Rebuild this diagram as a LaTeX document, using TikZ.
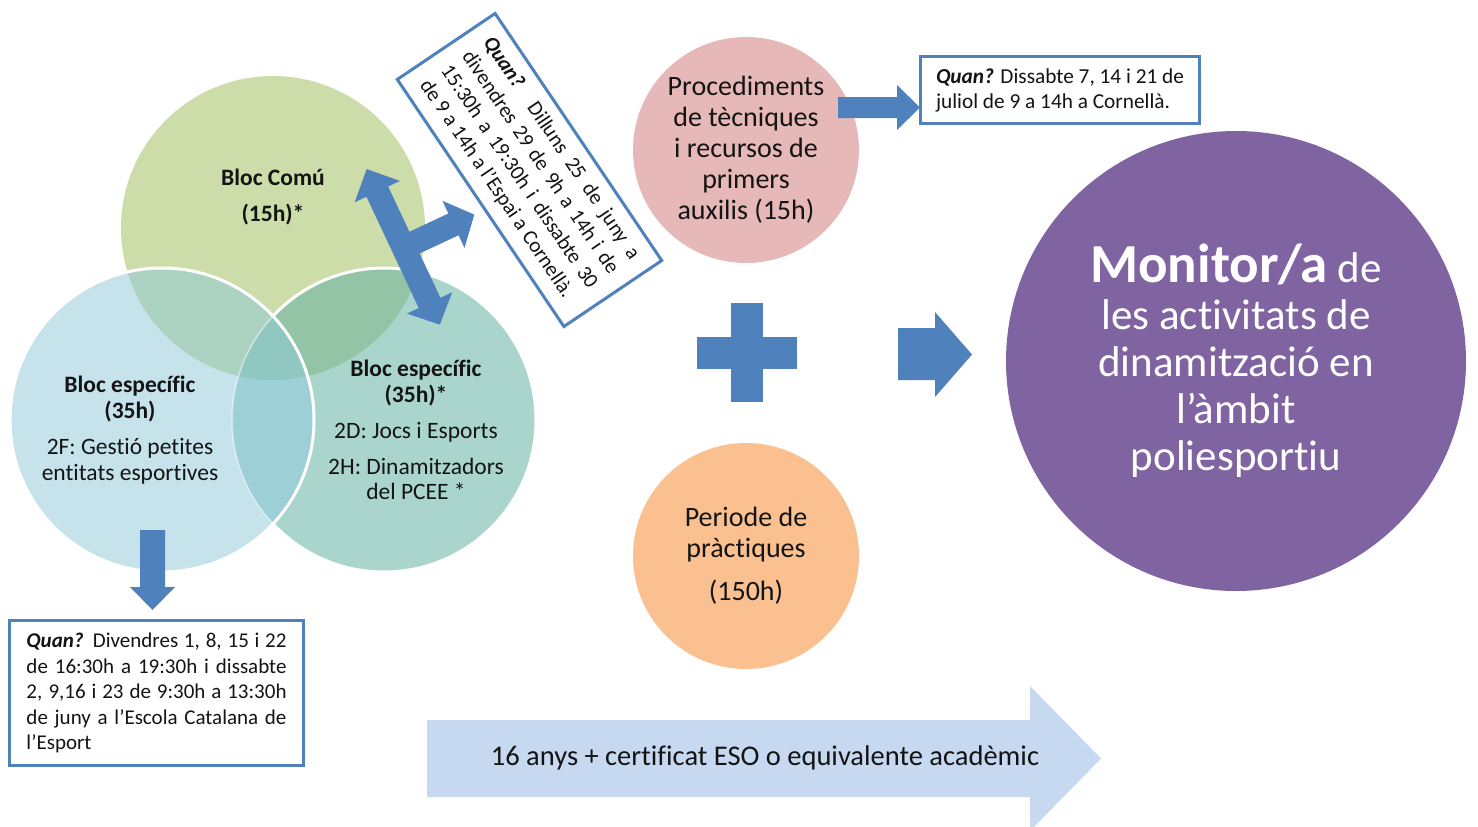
\documentclass[tikz,border=0pt]{standalone}
\usepackage{fontspec}
\setmainfont{Carlito}[Ligatures=CommonOff]
\definecolor{cG}{RGB}{205,221,170}
\definecolor{cB}{RGB}{198,227,235}
\definecolor{cT}{RGB}{170,213,205}
\definecolor{cGB}{RGB}{172,210,194}
\definecolor{cGT}{RGB}{147,196,165}
\definecolor{cBT}{RGB}{157,208,214}
\definecolor{cGBT}{RGB}{144,199,193}
\definecolor{cPink}{RGB}{230,185,184}
\definecolor{cOrange}{RGB}{250,192,144}
\definecolor{cPurple}{RGB}{128,100,162}
\definecolor{cArrow}{RGB}{79,129,189}
\definecolor{cPale}{RGB}{198,217,241}
\definecolor{cInk}{RGB}{20,20,20}
\begin{document}
\begin{tikzpicture}[x=1pt,y=-1pt,
  qbox/.style={draw=cArrow, line width=3pt, fill=white, inner xsep=17pt, inner ysep=0pt,
    text=cInk, font=\fontsize{21}{25.5}\selectfont, align=justify},
  venntext/.style={align=center, text=cInk, font=\fontsize{23.5}{25.5}\selectfont},
  roundel/.style={circle, inner sep=0pt, align=center, text=cInk},
  blockarrow/.style={fill=cArrow}
]
\useasboundingbox (0,0) rectangle (1478,827);

% ---------- Venn diagram ----------
\fill[cG] (273,228) circle[radius=152pt];
\fill[cT] (384,420) circle[radius=152pt];
\begin{scope}
  \clip (273,228) circle[radius=152pt];
  \fill[cGT] (384,420) circle[radius=152pt];
\end{scope}
\draw[white, line width=3pt] (384,420) circle[radius=152pt];
\fill[cB] (162,420) circle[radius=152pt];
\begin{scope}
  \clip (162,420) circle[radius=152pt];
  \fill[cGB] (273,228) circle[radius=152pt];
  \fill[cBT] (384,420) circle[radius=152pt];
  \clip (384,420) circle[radius=152pt];
  \fill[cGBT] (273,228) circle[radius=152pt];
\end{scope}
\begin{scope}
  \clip (162,420) circle[radius=152pt];
  \draw[white, opacity=0.5, line width=1.5pt] (384,420) circle[radius=152pt];
\end{scope}
\draw[white, line width=3pt] (162,420) circle[radius=152pt];

\node[venntext, font=\fontsize{23.5}{25.5}\selectfont\bfseries] (comu) at (273,197)
  {Bloc Comú\\[10pt](15h)*};
\node[venntext] (espF) at (130,430)
  {\textbf{Bloc específic}\\\textbf{(35h)}\\[11pt]2F: Gestió petites\\entitats esportives};
\node[venntext] (espD) at (416,430)
  {\textbf{Bloc específic}\\\textbf{(35h)*}\\[11pt]2D: Jocs i Esports\\[10pt]2H: Dinamitzadors\\del PCEE *};

% ---------- T-shaped arrow ----------
\begin{scope}[shift={(366.7,169)}, x={(0.425pt,-0.905pt)}, y={(0.905pt,0.425pt)}]
  \fill[blockarrow] (0,0) -- (25,25) -- (25,12) -- (75,12) -- (75,55) -- (61,55)
    -- (87,78) -- (113,55) -- (99,55) -- (99,12) -- (148,12) -- (148,25)
    -- (172,0) -- (148,-25) -- (148,-12) -- (25,-12) -- (25,-25) -- cycle;
\end{scope}

% ---------- rotated box ----------
\node[qbox, rotate=-56, minimum width=293pt, minimum height=118pt, text width=264pt]
  (quanA) at (529.5,170)
  {\textbf{\textit{Quan?}} Dilluns 25 de juny a\linebreak
   divendres 29 de 9h a 14h i de\linebreak
   15:30h a 19:30h i dissabte 30\linebreak
   de 9 a 14h a l’Espai a Cornellà.};

% ---------- down arrow and box ----------
\fill[blockarrow] (140,530) -- (165,530) -- (165,587) -- (175,587) -- (152.5,610)
  -- (130,587) -- (140,587) -- cycle;
\node[qbox, minimum width=294pt, minimum height=145pt, text width=260pt]
  (quanB) at (156.5,693)
  {\textbf{\textit{Quan?}} Divendres 1, 8, 15 i 22\linebreak
   de 16:30h a 19:30h i dissabte\linebreak
   2, 9,16 i 23 de 9:30h a 13:30h\linebreak
   de juny a l’Escola Catalana de\linebreak
   l’Esport};

% ---------- middle column ----------
\node[roundel, fill=cPink, minimum size=226pt, font=\fontsize{28}{31}\selectfont]
  (proc) at (746,150)
  {Procediments\\de tècniques\\i recursos de\\primers\\auxilis (15h)};
\node[roundel, fill=cOrange, minimum size=226pt, font=\fontsize{28}{31}\selectfont]
  (prac) at (746,556)
  {Periode de\\pràctiques\\[12pt](150h)};

\fill[blockarrow] (838,97) -- (897,97) -- (897,85) -- (920,107.5) -- (897,130)
  -- (897,118) -- (838,118) -- cycle;
\node[qbox, minimum width=279pt, minimum height=67pt, inner xsep=4pt, align=left,
  font=\fontsize{21.3}{25}\selectfont]
  (quanC) at (1060,90)
  {\textbf{\textit{Quan?}} Dissabte 7, 14 i 21 de\\juliol de 9 a 14h a Cornellà.};

\fill[blockarrow] (697,337) rectangle (797,369);
\fill[blockarrow] (731,303) rectangle (763,402);

\fill[blockarrow] (898,328) -- (935,328) -- (935,312) -- (972,354.5) -- (935,397)
  -- (935,380) -- (898,380) -- cycle;

% ---------- result ----------
\node[roundel, fill=cPurple, minimum size=460pt, text=white,
  font=\fontsize{43}{47}\selectfont] (monitor) at (1236,361)
  {{\fontsize{55}{56}\selectfont\bfseries Monitor/a} de\\les activitats de\\dinamització en\\l’àmbit\\poliesportiu};

% ---------- bottom arrow ----------
\fill[cPale] (427,720) -- (1030,720) -- (1030,686) -- (1101,758.5) -- (1030,831)
  -- (1030,797) -- (427,797) -- cycle;
\node[text=cInk, font=\fontsize{28.5}{30}\selectfont] (req) at (765,758)
  {16 anys + certificat ESO o equivalente acadèmic};
\end{tikzpicture}
\end{document}
